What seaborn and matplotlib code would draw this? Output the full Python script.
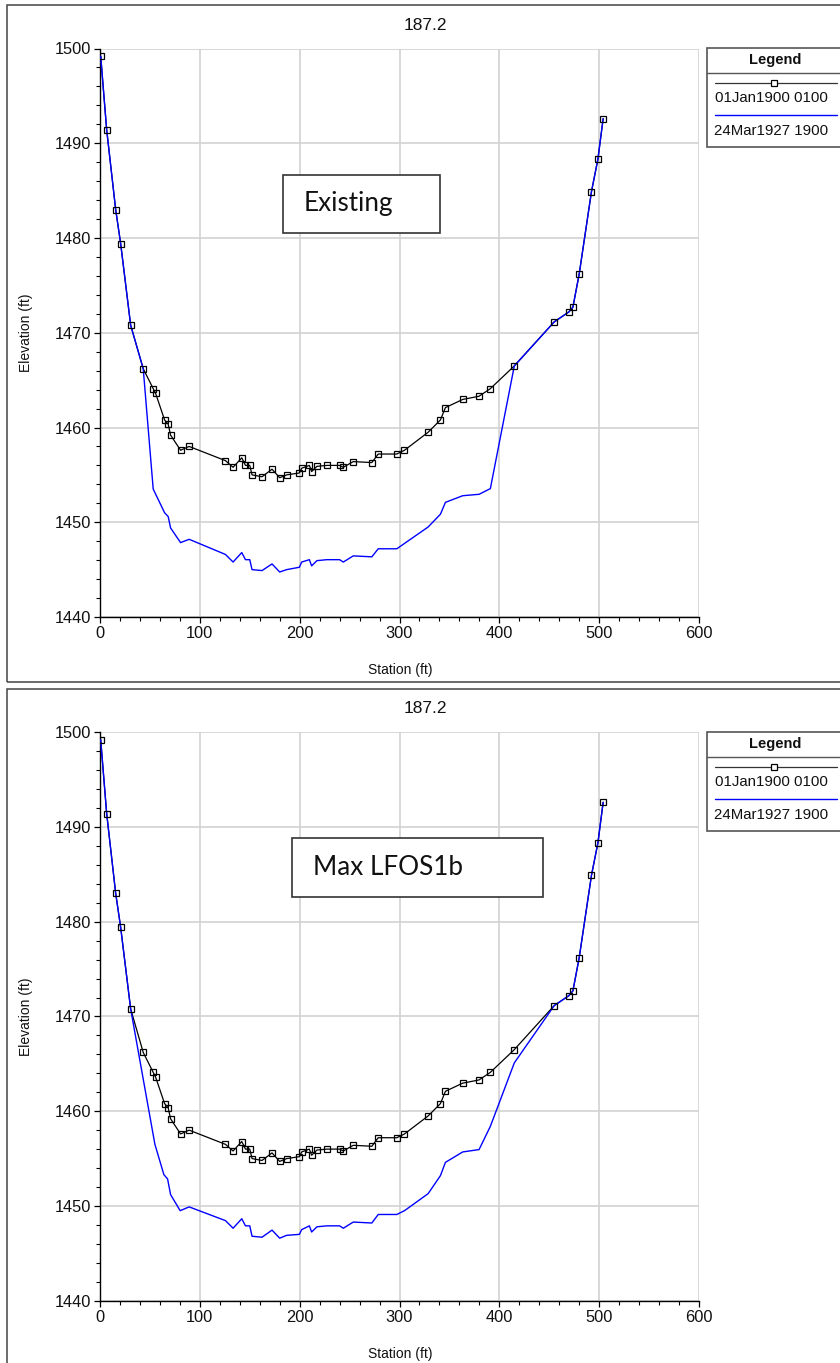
import numpy as np
import pandas as pd
import matplotlib
matplotlib.use("Agg")
import matplotlib.pyplot as plt
from matplotlib.lines import Line2D
from matplotlib.patches import Rectangle
from matplotlib.ticker import MultipleLocator
import seaborn as sns

# ---------------- data ----------------
station_ground = [0.7, 6.7, 15.7, 20.7, 30.7, 43.3, 53.3, 55.7, 64.7, 68.3, 70.7, 80.7, 89.3,
                  125.7, 133.3, 142, 145.7, 150, 152.3, 162.3, 172.3, 180, 187, 199.7, 202,
                  209.7, 212, 217.3, 227.3, 240, 243.7, 253.7, 272.3, 278.7, 297.3, 305,
                  328.7, 341, 346, 363.3, 379.7, 391, 415, 455, 469.7, 473.7, 480, 492.3,
                  498.7, 504]
elev_ground = [1499.2, 1491.4, 1483.0, 1479.4, 1470.8, 1466.2, 1464.1, 1463.6, 1460.8, 1460.35,
               1459.2, 1457.6, 1458.0, 1456.5, 1455.8, 1456.8, 1456.0, 1456.0, 1455.0, 1454.8,
               1455.6, 1454.7, 1455.0, 1455.2, 1455.7, 1456.0, 1455.35, 1455.9, 1456.0, 1456.0,
               1455.8, 1456.4, 1456.3, 1457.2, 1457.2, 1457.6, 1459.5, 1460.8, 1462.1, 1462.96,
               1463.3, 1464.1, 1466.5, 1471.15, 1472.2, 1472.7, 1476.2, 1484.9, 1488.3, 1492.6]

station_existing = [0.7, 6.7, 15.7, 20.7, 30.7, 43.3, 53.3, 64.7, 68.3, 70.7, 80.7, 89.3, 125.7,
                    133.3, 142, 145.7, 150, 152.3, 162.3, 172.3, 180, 187, 199.7, 202, 209.7,
                    212, 217.3, 227.3, 240, 243.7, 253.7, 272.3, 278.7, 297.3, 328.7, 341, 346,
                    363.3, 379.7, 391, 415, 455, 469.7, 473.7, 480, 492.3, 498.7, 504]
elev_existing = [1499.2, 1491.4, 1483.0, 1479.4, 1470.8, 1466.2, 1453.5, 1451.0, 1450.6, 1449.4,
                 1447.85, 1448.2, 1446.6, 1445.8, 1446.8, 1446.05, 1446.05, 1445.0, 1444.9,
                 1445.6, 1444.75, 1445.0, 1445.25, 1445.8, 1446.05, 1445.4, 1445.95, 1446.05,
                 1446.05, 1445.8, 1446.45, 1446.35, 1447.2, 1447.2, 1449.5, 1450.85, 1452.1,
                 1452.8, 1452.95, 1453.55, 1466.5, 1471.15, 1472.2, 1472.7, 1476.2, 1484.9,
                 1488.3, 1492.6]

station_lfos = [0.7, 6.7, 15.7, 20.7, 30.7, 55, 64, 67.7, 70.7, 80.3, 89.3, 125.7, 133.3, 142,
                145.7, 150, 152.3, 162.3, 172.3, 180, 187, 199.7, 202, 209.7, 212, 217.3, 227.3,
                240, 243.7, 253.7, 272.3, 278.7, 297.3, 305, 328.7, 341, 346, 363.3, 379.7, 391,
                415, 455, 469.7, 473.7, 480, 492.3, 498.7, 504]
elev_lfos = [1499.2, 1491.4, 1483.0, 1479.4, 1470.8, 1456.5, 1453.3, 1452.85, 1451.2, 1449.5,
             1449.9, 1448.45, 1447.65, 1448.65, 1447.9, 1447.9, 1446.8, 1446.7, 1447.45, 1446.6,
             1446.9, 1447.0, 1447.5, 1447.9, 1447.25, 1447.8, 1447.9, 1447.9, 1447.65, 1448.3,
             1448.2, 1449.1, 1449.1, 1449.5, 1451.3, 1453.2, 1454.6, 1455.7, 1455.95, 1458.4,
             1465.1, 1471.15, 1472.2, 1472.7, 1476.2, 1484.9, 1488.3, 1492.6]

panel_titles = ["187.2", "187.2"]
scenario_labels = ["Existing", "Max LFOS1b"]
legend_title = "Legend"
legend_labels = ["01Jan1900 0100", "24Mar1927 1900"]
x_ticks = [0, 100, 200, 300, 400, 500, 600]
y_ticks = [1440, 1450, 1460, 1470, 1480, 1490, 1500]
x_label = "Station (ft)"
y_label = "Elevation (ft)"

# ---------------- style ----------------
sns.set_theme(style="white")
plt.rcParams["font.family"] = ["Liberation Sans", "DejaVu Sans"]

W, H = 840, 1363
fig = plt.figure(figsize=(W / 100, H / 100), dpi=100)


def fx(px):
    return px / W


def fy(py):
    return 1 - py / H


ground_df = pd.DataFrame({"station": station_ground, "elev": elev_ground})
BLUE = "#0000ff"


def draw_panel(off, bx, by, title, label, box):
    # panel frame
    fig.patches.append(Rectangle((fx(7), fy(682 + off)), fx(850) - fx(7), (682 - 5) / H,
                                 transform=fig.transFigure, fill=False,
                                 edgecolor="#444444", lw=1.1, zorder=0))
    ax = fig.add_axes([fx(100), fy(617 + off), fx(699) - fx(100), (617 - 48.5) / H])
    ax.set_facecolor("white")
    blue_df = pd.DataFrame({"station": bx, "elev": by})
    sns.lineplot(data=ground_df, x="station", y="elev", ax=ax, color="black", lw=0.9,
                 estimator=None, sort=False, zorder=3)
    sns.lineplot(data=blue_df, x="station", y="elev", ax=ax, color=BLUE, lw=1.0,
                 estimator=None, sort=False, zorder=4)
    sns.lineplot(data=ground_df, x="station", y="elev", ax=ax, color="black", lw=0,
                 marker="s", markersize=4.6, markerfacecolor="none",
                 markeredgecolor="black", markeredgewidth=0.9,
                 estimator=None, sort=False, zorder=5)
    ax.set_xlim(0, 600)
    ax.set_ylim(1440, 1500)
    ax.set_xticks(x_ticks)
    ax.set_yticks(y_ticks)
    ax.xaxis.set_minor_locator(MultipleLocator(20))
    ax.yaxis.set_minor_locator(MultipleLocator(2))
    ax.grid(True, which="major", color="#d2d2d2", lw=1.2, zorder=0)
    ax.set_axisbelow(True)
    for s in ["top", "right"]:
        ax.spines[s].set_visible(False)
    for s in ["left", "bottom"]:
        ax.spines[s].set_color("black")
        ax.spines[s].set_linewidth(1.0)
    ax.tick_params(which="major", direction="out", length=4.5, width=0.9, color="black",
                   labelsize=11.8, pad=2, left=True, bottom=True)
    ax.tick_params(which="minor", direction="out", length=3, width=0.8, color="black",
                   left=True, bottom=True)
    ax.set_xlabel("")
    ax.set_ylabel("")
    for t in ax.get_xticklabels() + ax.get_yticklabels():
        t.set_color("#111111")

    fig.text(fx(425), fy(25 + off), title, ha="center", va="center", fontsize=12.5, color="#111111")
    fig.text(fx(400), fy(670 + off), x_label, ha="center", va="center", fontsize=10, color="#111111")
    fig.text(fx(26), fy(333 + off), y_label, ha="center", va="center", fontsize=10,
             rotation=90, color="#111111")

    # scenario text box
    x0, y0, x1, y1 = box
    fig.patches.append(Rectangle((fx(x0), fy(y1 + off)), fx(x1) - fx(x0), (y1 - y0) / H,
                                 transform=fig.transFigure, facecolor="white",
                                 edgecolor="#333333", lw=1.2, zorder=6))
    fig.text(fx(x0 + 21), fy((y0 + y1) / 2 + off), label, ha="left", va="center",
             fontsize=18.8, family=["Lato", "DejaVu Sans"], color="#111111", zorder=7)

    # legend box
    fig.patches.append(Rectangle((fx(707), fy(147 + off)), fx(850) - fx(707), (147 - 48) / H,
                                 transform=fig.transFigure, facecolor="white",
                                 edgecolor="#555555", lw=1.2, zorder=6))
    fig.lines.append(Line2D([fx(707), fx(850)], [fy(73 + off)] * 2, transform=fig.transFigure,
                            color="#555555", lw=1.0, zorder=7))
    fig.text(fx(775), fy(60 + off), legend_title, ha="center", va="center", fontsize=10.5,
             fontweight="bold", color="#111111", zorder=7)
    fig.lines.append(Line2D([fx(715), fx(837)], [fy(83 + off)] * 2, transform=fig.transFigure,
                            color="#333333", lw=0.9, zorder=7))
    fig.lines.append(Line2D([fx(774)], [fy(83 + off)], transform=fig.transFigure, color="black",
                            marker="s", markersize=4.2, markerfacecolor="white",
                            markeredgewidth=0.9, lw=0, zorder=8))
    fig.text(fx(715), fy(98 + off), legend_labels[0], ha="left", va="center", fontsize=10.8,
             color="#111111", zorder=7)
    fig.lines.append(Line2D([fx(715), fx(837)], [fy(115 + off)] * 2, transform=fig.transFigure,
                            color=BLUE, lw=1.0, zorder=7))
    fig.text(fx(714), fy(131 + off), legend_labels[1], ha="left", va="center", fontsize=10.8,
             color="#111111", zorder=7)
    return ax


draw_panel(0, station_existing, elev_existing, panel_titles[0], scenario_labels[0],
           (283, 175, 440, 233))
draw_panel(683.7, station_lfos, elev_lfos, panel_titles[1], scenario_labels[1],
           (292, 154, 543, 213))

fig.savefig("out.png", dpi=100)
